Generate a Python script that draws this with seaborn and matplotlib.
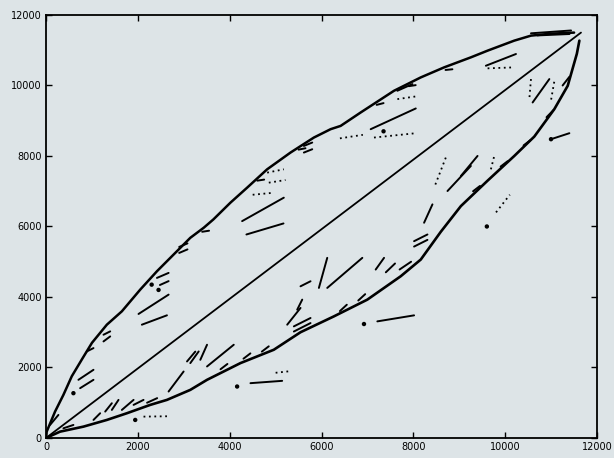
import numpy as np
import pandas as pd
import seaborn as sns
import matplotlib
matplotlib.use("Agg")
import matplotlib.pyplot as plt

# upper envelope
upper_x = [0, 14, 196, 378, 560, 790, 1000, 1324, 1651, 2051, 2415, 2706, 3142, 3433, 3644,
           4015, 4379, 4815, 5324, 5833, 6197, 6415, 6851, 7578, 8161, 8670, 9252, 9616,
           10197, 10561, 11000, 11500]
upper_y = [0, 180, 749, 1223, 1750, 2250, 2700, 3214, 3593, 4209, 4730, 5110, 5679, 5963, 6200,
           6675, 7101, 7622, 8097, 8523, 8760, 8853, 9233, 9850, 10229, 10514, 10798, 10988,
           11272, 11414, 11470, 11500]

# lower envelope
lower_x = [0, 305, 814, 1324, 1760, 2269, 2633, 3142, 3506, 4233, 4960, 5542, 6269, 6997,
           7724, 8161, 8597, 9034, 9616, 10197, 10633, 11070, 11361, 11560, 11615]
lower_y = [0, 180, 322, 512, 702, 939, 1081, 1365, 1650, 2124, 2503, 3000, 3450, 3925,
           4588, 5062, 5850, 6578, 7300, 8000, 8550, 9330, 9991, 10900, 11272]

# diagonal reference
diag_x = [0, 11650]
diag_y = [0, 11500]

# solid short runs: (x0, y0, x1, y1)
solid_runs = [
    (2014, 3518, 2669, 4067), (2087, 3214, 2633, 3480), (2415, 4541, 2669, 4683),
    (4270, 6152, 5178, 6817), (4364, 5773, 5171, 6086), (5615, 8285, 5797, 8381),
    (5615, 8097, 5797, 8191), (7070, 8760, 8052, 9348), (7651, 9850, 7979, 10040),
    (9579, 10560, 10234, 10893), (705, 1650, 1033, 1934), (742, 1413, 1033, 1650),
    (887, 2455, 1033, 2550), (1251, 2739, 1397, 2881), (1251, 2929, 1397, 3024),
    (2900, 5420, 3080, 5520), (2900, 5250, 3080, 5350), (2480, 4340, 2669, 4450),
    (87, 370, 269, 654), (378, 275, 596, 370),
    (1033, 512, 1178, 702), (1288, 749, 1433, 986), (1433, 796, 1578, 1081),
    (1651, 796, 1906, 1081), (1906, 939, 2123, 1081), (2200, 1000, 2420, 1130),
    (2669, 1318, 2996, 1886), (3142, 2124, 3324, 2455), (3360, 2218, 3506, 2645),
    (3506, 2029, 4088, 2645), (3070, 2171, 3250, 2450), (4452, 1555, 5142, 1621),
    (5397, 3166, 5760, 3404), (5397, 3020, 5760, 3260), (5470, 3640, 5579, 3925),
    (5542, 4303, 5760, 4446), (5252, 3214, 5542, 3689), (5942, 4257, 6124, 5110),
    (6124, 4257, 6888, 5110), (7179, 4778, 7361, 5110), (7400, 4700, 7600, 4950),
    (7700, 4780, 7950, 5000), (7215, 3308, 8015, 3479), (8015, 5583, 8306, 5773),
    (8015, 5430, 8306, 5620), (8743, 7006, 9252, 7717), (8233, 6106, 8415, 6627),
    (9034, 7432, 9397, 8001), (10597, 9518, 10961, 10182), (10997, 8476, 11397, 8646),
    (10561, 11480, 11434, 11560), (10700, 11420, 11400, 11460),
    # hair along the lower edge
    (3800, 1950, 3950, 2100), (4300, 2250, 4450, 2400), (4700, 2450, 4850, 2600),
    (6400, 3600, 6550, 3780), (6800, 3900, 6950, 4080), (9300, 7000, 9450, 7150),
    (9900, 7700, 10050, 7850), (10400, 8300, 10550, 8450), (10900, 9100, 11050, 9300),
    (11250, 10000, 11400, 10250),
    # hair along the upper edge
    (3400, 5850, 3550, 5880), (4600, 7300, 4750, 7330), (5500, 8180, 5650, 8220),
    (7200, 9450, 7350, 9500), (7900, 9980, 8050, 10010), (8700, 10440, 8850, 10460),
]

# dotted runs
dotted_runs = [
    (4851, 7243, 5215, 7318), (4815, 7528, 5178, 7622), (4500, 6900, 4900, 6950),
    (7142, 8523, 8052, 8646), (7651, 9613, 8052, 9689), (9616, 10486, 10197, 10514),
    (2123, 606, 2633, 616), (8706, 7954, 8452, 7101), (9688, 7622, 9761, 8001),
    (10561, 10182, 10525, 9613), (11000, 9600, 11080, 10200), (6400, 8500, 6900, 8600),
    (5000, 1850, 5350, 1900), (9800, 6400, 10100, 6900),
]

# isolated blobs
dot_x = [1942, 4161, 6924, 10997, 596, 2300, 2450, 7350, 9600]
dot_y = [512, 1460, 3233, 8476, 1271, 4350, 4200, 8700, 6000]

# ticks
ticks = [0, 2000, 4000, 6000, 8000, 10000, 12000]


def runs_frame(runs):
    rows = []
    for i, (x0, y0, x1, y1) in enumerate(runs):
        rows.append((i, x0, y0))
        rows.append((i, x1, y1))
    return pd.DataFrame(rows, columns=["seg", "x", "y"])


sns.set_style("ticks")
paper = "#dde4e7"
fig = plt.figure(figsize=(6.14, 4.58), dpi=100, facecolor=paper)
ax = fig.add_axes([0.075, 0.0437, 0.8974, 0.9236])
ax.set_facecolor(paper)

sns.lineplot(x=upper_x, y=upper_y, sort=False, color="black", lw=1.8, ax=ax)
sns.lineplot(x=lower_x, y=lower_y, sort=False, color="black", lw=1.9, ax=ax)
sns.lineplot(x=diag_x, y=diag_y, sort=False, color="black", lw=1.3, ax=ax)

sns.lineplot(data=runs_frame(solid_runs), x="x", y="y", units="seg", estimator=None,
             sort=False, color="black", lw=1.4, ax=ax)
sns.lineplot(data=runs_frame(dotted_runs), x="x", y="y", units="seg", estimator=None,
             sort=False, color="black", lw=1.3, linestyle=(0, (1, 2)), ax=ax)
sns.scatterplot(x=dot_x, y=dot_y, color="black", s=10, edgecolor="none", ax=ax)

ax.set_xlim(0, 12000)
ax.set_ylim(0, 12000)
ax.set_xticks(ticks)
ax.set_yticks(ticks)
ax.set_xticklabels([str(t) for t in ticks])
ax.set_yticklabels([str(t) for t in ticks])
ax.tick_params(direction="in", length=4, width=1, top=True, right=True,
               labelsize=7, colors="black", pad=3)
for s in ax.spines.values():
    s.set_linewidth(1.3)
    s.set_color("black")
ax.set_xlabel("")
ax.set_ylabel("")

fig.savefig("out.png", dpi=100, facecolor=paper)
